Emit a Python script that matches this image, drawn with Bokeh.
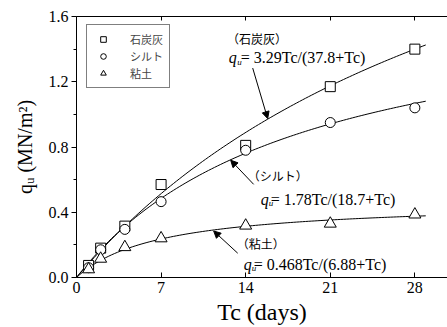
import numpy as np
from bokeh.plotting import figure
from bokeh.models import (LinearAxis, Label, Legend, LegendItem, Arrow, NormalHead,
                          FixedTicker, PrintfTickFormatter)
from bokeh.embed import file_html
from bokeh.resources import INLINE

# ---- data ----
tc = [1, 2, 4, 7, 14, 21, 28]
coal_ash = [0.074, 0.18, 0.315, 0.57, 0.81, 1.17, 1.40]
silt = [0.06, 0.17, 0.295, 0.465, 0.78, 0.95, 1.04]
clay = [0.05, 0.115, 0.186, 0.24, 0.318, 0.33, 0.386]
names = ["石炭灰", "シルト", "粘土"]
# fitted hyperbolic models q = a*Tc/(b+Tc) shown in the chart
fit_a = [3.29, 1.78, 0.468]
fit_b = [37.8, 18.7, 6.88]
eq_texts = ["= 3.29Tc/(37.8+Tc)", "= 1.78Tc/(18.7+Tc)", "= 0.468Tc/(6.88+Tc)"]
x_ticks = [0, 7, 14, 21, 28]
y_ticks = [0.0, 0.4, 0.8, 1.2, 1.6]
y_minor = [0.2, 0.6, 1.0, 1.4]
y_title = "qᵤ (MN/m²)"
x_title = "Tc (days)"

SERIF = "Liberation Serif"
CJK = "Noto Sans CJK JP"

p = figure(width=447, height=327, output_backend="svg", toolbar_location=None,
           x_range=(0, 30.7), y_range=(0, 1.6),
           x_axis_location=None, y_axis_location=None,
           min_border_left=76, min_border_right=0, min_border_top=16,
           min_border_bottom=0)
p.outline_line_color = None
p.xgrid.visible = False
p.ygrid.visible = False
p.background_fill_color = "white"

xb = LinearAxis(ticker=FixedTicker(ticks=x_ticks, minor_ticks=[]), axis_label=x_title)
xb.major_tick_in = 5
xb.major_tick_out = 0
xb.minor_tick_in = 0
xb.minor_tick_out = 0
xb.major_label_text_font = SERIF
xb.major_label_text_font_size = "16px"
xb.major_label_standoff = 4
xb.axis_label_text_font = SERIF
xb.axis_label_text_font_size = "24px"
xb.axis_label_text_font_style = "normal"
xb.axis_label_standoff = 3
p.add_layout(xb, "below")

yl = LinearAxis(ticker=FixedTicker(ticks=y_ticks, minor_ticks=y_minor),
                formatter=PrintfTickFormatter(format="%.1f"), axis_label=y_title)
yl.major_tick_in = 0
yl.major_tick_out = 5
yl.minor_tick_in = 0
yl.minor_tick_out = 3
yl.major_label_text_font = SERIF
yl.major_label_text_font_size = "16px"
yl.major_label_standoff = 3
yl.axis_label_text_font = SERIF
yl.axis_label_text_font_size = "20px"
yl.axis_label_text_font_style = "normal"
yl.axis_label_standoff = 10
p.add_layout(yl, "left")

xt = LinearAxis(ticker=FixedTicker(ticks=x_ticks, minor_ticks=[]))
xt.major_tick_in = 4
xt.major_tick_out = 0
xt.minor_tick_in = 0
xt.minor_tick_out = 0
xt.major_label_text_font_size = "1px"
xt.major_label_text_color = None
xt.major_label_standoff = 0
p.add_layout(xt, "above")

for ax in (xb, yl, xt):
    ax.axis_line_color = "black"
    ax.major_tick_line_color = "black"
    ax.minor_tick_line_color = "black"
    ax.axis_label_text_color = "black"
xb.major_label_text_color = "black"
yl.major_label_text_color = "black"

# fitted curves
tt = np.linspace(0, 28.9, 120)
for a, b in zip(fit_a, fit_b):
    p.line(tt, a * tt / (b + tt), line_color="black", line_width=1)

# markers
r_sq = p.scatter(tc, coal_ash, marker="square", size=10, line_color="black",
                 fill_color="white", line_width=1)
r_ci = p.scatter(tc, silt, marker="circle", size=10, line_color="black",
                 fill_color="white", line_width=1)
r_tr = p.scatter(tc, clay, marker="triangle", size=12, line_color="black",
                 fill_color="white", line_width=1)

legend = Legend(items=[LegendItem(label=names[0], renderers=[r_sq]),
                       LegendItem(label=names[1], renderers=[r_ci]),
                       LegendItem(label=names[2], renderers=[r_tr])],
                location=(10, 189))
legend.label_text_font = CJK
legend.label_text_font_size = "11px"
legend.glyph_width = 20
legend.glyph_height = 14
legend.label_height = 14
legend.label_standoff = 17
legend.padding = 6
legend.spacing = 1
legend.margin = 0
legend.border_line_color = "black"
legend.border_line_width = 1
legend.background_fill_alpha = 1
p.add_layout(legend, "center")

# annotations: (name label pos), (equation pos), arrows
name_pos = [(12.45, 1.464), (14.17, 0.626), (13.26, 0.211)]
eq_q_pos = [(12.59, 1.346), (15.24, 0.478), (13.84, 0.081)]
eq_u_pos = [(13.30, 1.322), (15.90, 0.454), (14.50, 0.057)]
eq_t_pos = [(13.59, 1.346), (16.07, 0.478), (14.66, 0.081)]
arrow_tail = [(14.58, 1.284), (14.66, 0.571), (13.34, 0.149)]
arrow_head = [(15.82, 0.974), (12.76, 0.719), (11.35, 0.285)]

for i in range(3):
    nx, ny = name_pos[i]
    p.add_layout(Label(x=nx, y=ny, text="（" + names[i] + "）", text_font=CJK,
                       text_font_size="12px", text_baseline="middle", text_color="black"))
    qx, qy = eq_q_pos[i]
    p.add_layout(Label(x=qx, y=qy, text="q", text_font=SERIF, text_font_style="italic",
                       text_font_size="16px", text_color="black", text_baseline="alphabetic"))
    ux, uy = eq_u_pos[i]
    p.add_layout(Label(x=ux, y=uy, text="u", text_font=SERIF, text_font_style="italic",
                       text_font_size="9px", text_color="black", text_baseline="alphabetic"))
    ex, ey = eq_t_pos[i]
    p.add_layout(Label(x=ex, y=ey, text=eq_texts[i], text_font=SERIF,
                       text_font_size="16px", text_color="black", text_baseline="alphabetic"))
    p.add_layout(Arrow(x_start=arrow_tail[i][0], y_start=arrow_tail[i][1],
                       x_end=arrow_head[i][0], y_end=arrow_head[i][1],
                       line_color="black", line_width=1,
                       end=NormalHead(size=7, fill_color="black", line_color="black")))

open("out.html", "w").write(file_html(p, INLINE))
